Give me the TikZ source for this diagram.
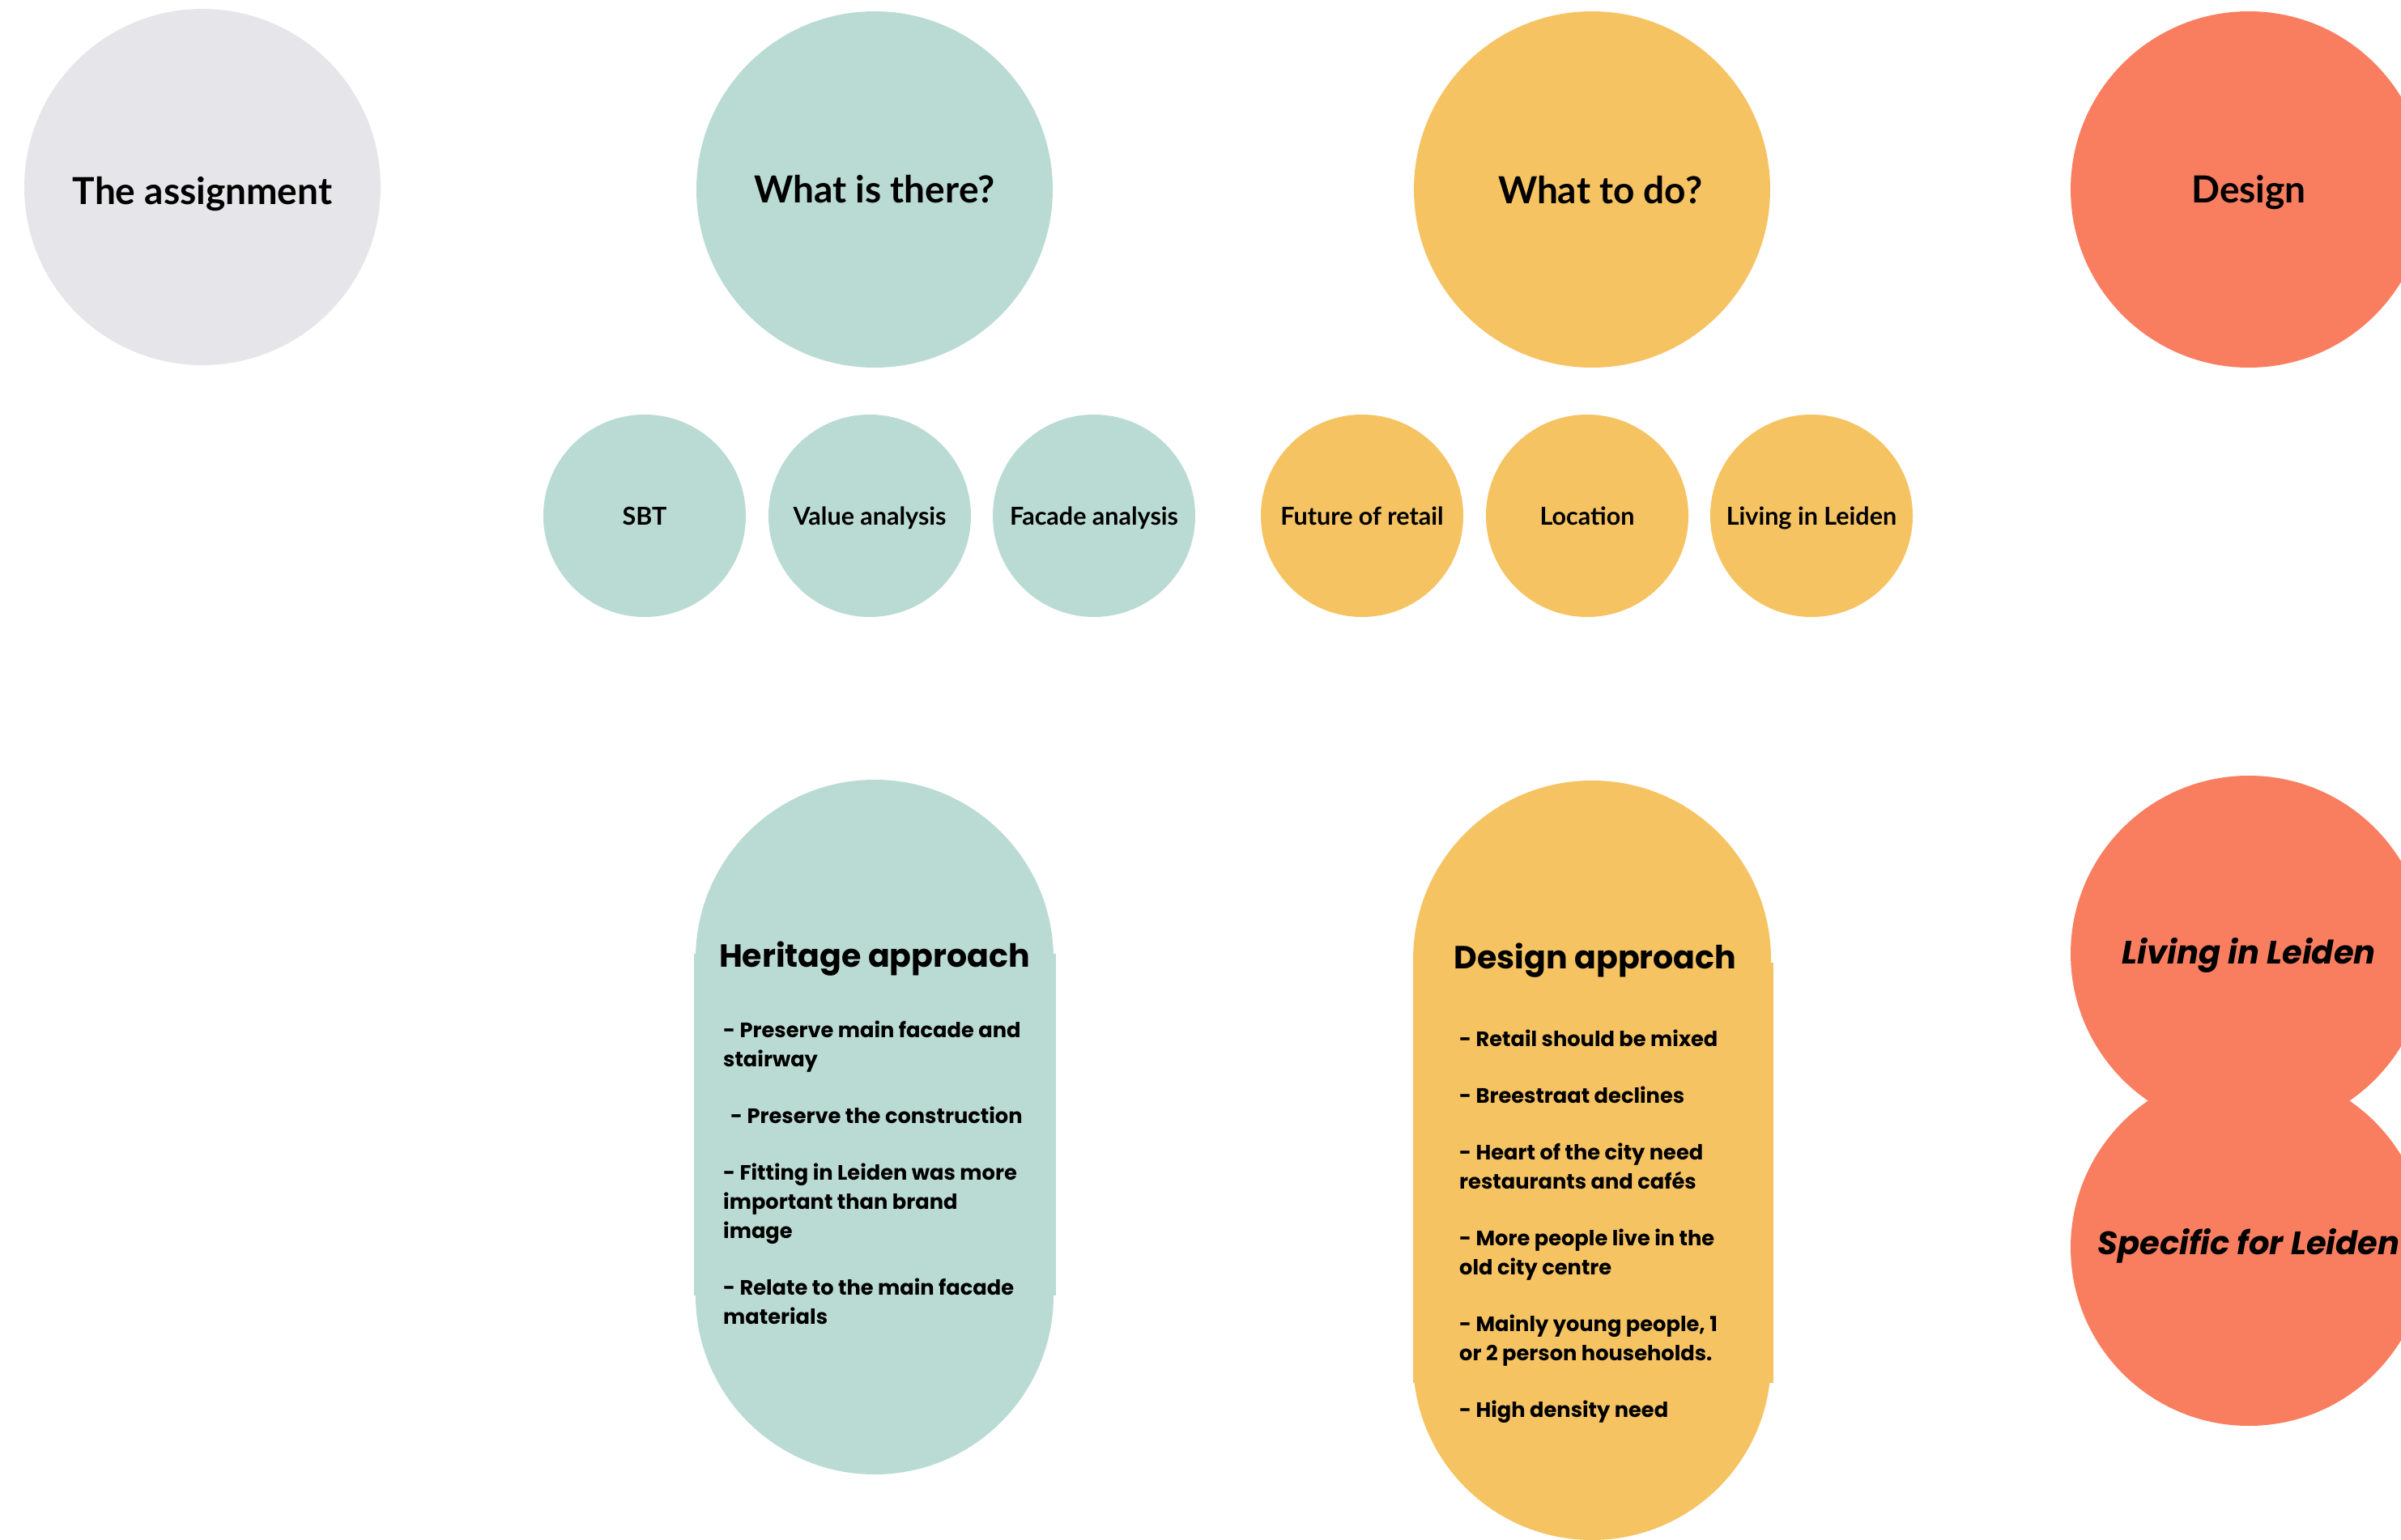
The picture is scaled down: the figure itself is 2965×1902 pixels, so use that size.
\documentclass[tikz,border=0pt]{standalone}
\usepackage{fontspec}
\setmainfont{Lato}
\newfontfamily\pop{Poppins}
\definecolor{cgrey}{HTML}{E6E5E9}
\definecolor{cteal}{HTML}{BADBD3}
\definecolor{cyellow}{HTML}{F6C363}
\definecolor{ccoral}{HTML}{F97E60}
\tikzset{
  bigc/.style={circle, minimum size=440pt, inner sep=0pt,
    font=\bfseries\fontsize{46}{50}\selectfont, text height=33pt, text depth=0pt},
  bigtext/.style={anchor=base, inner sep=0pt, font=\bfseries\fontsize{46}{50}\selectfont},
  smallc/.style={circle, minimum size=250pt, inner sep=0pt,
    font=\bfseries\fontsize{30.5}{34}\selectfont, text height=22pt, text depth=0pt},
  redc/.style={circle, minimum size=440pt, inner sep=0pt, fill=ccoral},
  redtext/.style={anchor=base, inner sep=0pt, font=\pop\bfseries\itshape\fontsize{40}{44}\selectfont},
  pilltitle/.style={anchor=base, inner sep=0pt, font=\pop\bfseries\fontsize{39.5}{44}\selectfont},
  pillbody/.style={anchor=north west, inner sep=0pt, align=left,
    font=\pop\bfseries\fontsize{25.7}{36}\selectfont},
}
\begin{document}
\begin{tikzpicture}[x=1pt,y=-1pt]
\useasboundingbox (0,0) rectangle (2965,1902);
\fill[white] (0,0) rectangle (2965,1902);
\clip (0,0) rectangle (2965,1902);
% top row
\node[bigc, fill=cgrey] (assign) at (250,231) {};
\node[bigtext] (assigntext) at (250,253) {The assignment};
\node[bigc, fill=cteal] (there) at (1080,234) {What is there?};
\node[bigc, fill=cyellow] (todo) at (1966,234) {};
\node[bigtext] (todotext) at (1976,252) {What to do?};
\node[bigc, fill=ccoral] (design) at (2777,234) {Design};
% small circles
\node[smallc, fill=cteal] (sbt) at (796,637) {SBT};
\node[smallc, fill=cteal] (value) at (1074,637) {Value analysis};
\node[smallc, fill=cteal] (facade) at (1351,637) {Facade analysis};
\node[smallc, fill=cyellow] (retail) at (1682,637) {Future of retail};
\node[smallc, fill=cyellow] (location) at (1960,637) {Location};
\node[smallc, fill=cyellow] (living) at (2237,637) {Living in Leiden};
% heritage pill
\fill[cteal] (1080,1184) circle (221);
\fill[cteal] (1080,1600) circle (221);
\fill[cteal] (859,1184) rectangle (1301,1600);
\fill[cteal] (857,1178) rectangle (1304,1600);
\node[pilltitle] (herittitle) at (1080,1194) {Heritage approach};
\node[pillbody] (heritbody) at (893,1261) {%
- Preserve main facade and\\ stairway\\[34pt]
\hspace*{9pt}- Preserve the construction\\[34pt]
- Fitting in Leiden was more\\ important than brand\\ image\\[34pt]
- Relate to the main facade\\ materials};
% design pill
\fill[cyellow] (1966,1185) circle (221);
\fill[cyellow] (1966,1681) circle (221);
\fill[cyellow] (1745,1185) rectangle (2187,1681);
\fill[cyellow] (1745,1189) rectangle (2190,1708);
\node[pilltitle] (dapptitle) at (1970,1196) {Design approach};
\node[pillbody] (dappbody) at (1802,1272) {%
- Retail should be mixed\\[34pt]
- Breestraat declines\\[34pt]
- Heart of the city need\\ restaurants and cafés\\[34pt]
- More people live in the\\ old city centre\\[34pt]
- Mainly young people, 1\\ or 2 person households.\\[34pt]
- High density need};
% red circles
\node[redc] (live) at (2777,1178) {};
\node[redc] (specific) at (2777,1541) {};
\node[redtext] (livetext) at (2777,1190) {Living in Leiden};
\node[redtext] (specifictext) at (2777,1549) {Specific for Leiden};
\end{tikzpicture}
\end{document}
